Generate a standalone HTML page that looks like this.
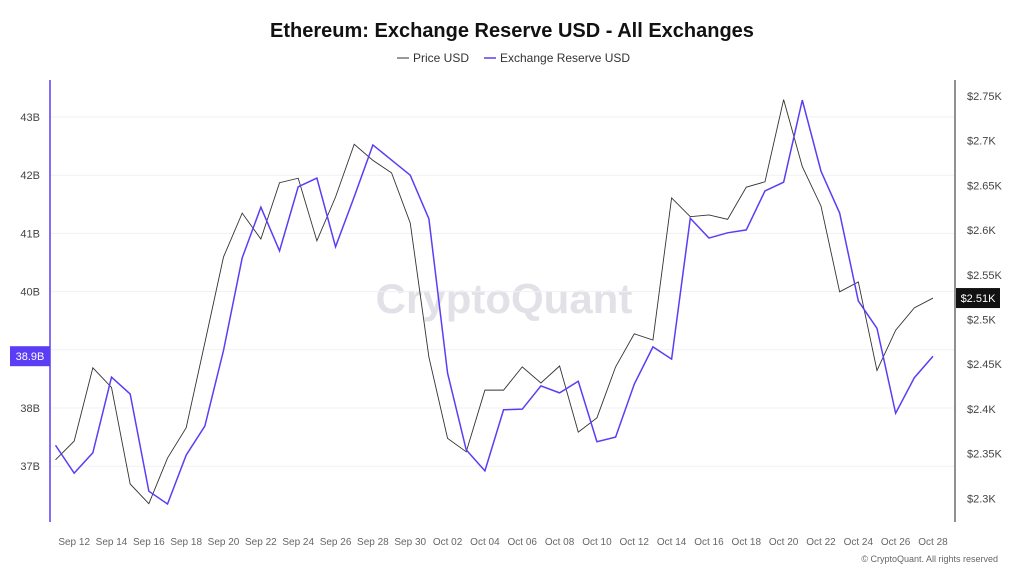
<!DOCTYPE html>
<html><head><meta charset="utf-8"><style>
body{margin:0;background:#fff;font-family:"Liberation Sans",sans-serif}
svg{display:block}
</style></head><body>
<svg id="c" width="1024" height="576" xmlns="http://www.w3.org/2000/svg">
<text x="512" y="37" text-anchor="middle" font-size="20" font-weight="bold" fill="#111">Ethereum: Exchange Reserve USD - All Exchanges</text>
<g>
<line x1="397" y1="58" x2="409" y2="58" stroke="#333" stroke-width="1"/>
<text x="413" y="62" font-size="12" fill="#333">Price USD</text>
<line x1="484" y1="58" x2="496" y2="58" stroke="#5b3df5" stroke-width="1.5"/>
<text x="500" y="62" font-size="12" fill="#333">Exchange Reserve USD</text>
</g>
<text x="504" y="313" text-anchor="middle" font-size="42" font-weight="bold" fill="#e2e1e8">CryptoQuant</text>
<g id="grid"></g><g id="axes"></g><g id="lines"></g>
<text x="998" y="562" text-anchor="end" font-size="9" fill="#666">© CryptoQuant. All rights reserved</text>
</svg>
<script>
const dates=["Sep 11","Sep 12","Sep 13","Sep 14","Sep 15","Sep 16","Sep 17","Sep 18","Sep 19","Sep 20","Sep 21","Sep 22","Sep 23","Sep 24","Sep 25","Sep 26","Sep 27","Sep 28","Sep 29","Sep 30","Oct 01","Oct 02","Oct 03","Oct 04","Oct 05","Oct 06","Oct 07","Oct 08","Oct 09","Oct 10","Oct 11","Oct 12","Oct 13","Oct 14","Oct 15","Oct 16","Oct 17","Oct 18","Oct 19","Oct 20","Oct 21","Oct 22","Oct 23","Oct 24","Oct 25","Oct 26","Oct 27","Oct 28"];
const reserve=[37.36,36.88,37.23,38.53,38.24,36.57,36.35,37.19,37.69,38.99,40.58,41.45,40.70,41.80,41.95,40.77,41.63,42.52,42.26,42.00,41.25,38.60,37.28,36.92,37.97,37.98,38.38,38.26,38.46,37.42,37.50,38.41,39.05,38.84,41.26,40.92,41.01,41.06,41.73,41.88,43.29,42.07,41.35,39.84,39.37,37.91,38.52,38.89];
const price=[2.343,2.364,2.446,2.424,2.316,2.294,2.345,2.379,2.474,2.570,2.619,2.590,2.653,2.658,2.588,2.637,2.696,2.678,2.664,2.608,2.458,2.367,2.352,2.421,2.421,2.447,2.429,2.448,2.374,2.390,2.447,2.484,2.477,2.636,2.615,2.617,2.612,2.648,2.654,2.746,2.671,2.627,2.531,2.542,2.443,2.488,2.513,2.524];
const leftTicks=[37,38,39,40,41,42,43];
const rightTicks=[2.3,2.35,2.4,2.45,2.5,2.55,2.6,2.65,2.7,2.75];
const NS="http://www.w3.org/2000/svg";
const X0=55.5,DX=18.67;
const x=i=>X0+i*DX;
const yL=v=>117+(43-v)*58.2;
const yR=v=>96+(2.75-v)*894;
function mk(t,a,p,txt){const e=document.createElementNS(NS,t);for(const k in a)e.setAttribute(k,a[k]);if(txt!=null)e.textContent=txt;p.appendChild(e);return e;}
const grid=document.getElementById('grid'),axes=document.getElementById('axes'),lines=document.getElementById('lines');
leftTicks.forEach(v=>{
 const g=mk('line',{x1:51,x2:954,y1:yL(v),y2:yL(v),stroke:'#f1f1f4'},grid);
 
 
 if(v===39)return;
 const t=mk('text',{x:40,y:yL(v)+4,'text-anchor':'end','font-size':11,fill:'#444'},axes,v+'B');
 
 
});
rightTicks.forEach(v=>{
 const t=mk('text',{x:967,y:yR(v)+4,'font-size':11,fill:'#444'},axes,'$'+v+'K');
 
 
});
dates.forEach((d,i)=>{
 if(i%2===1){const t=mk('text',{x:x(i),y:545,'text-anchor':'middle','font-size':10,fill:'#666'},axes,d);
 
 }
});
const la=mk('line',{x1:50,x2:50,y1:80,y2:522,stroke:'#5b3df5','stroke-width':1.5},axes);


const ra=mk('line',{x1:955,x2:955,y1:80,y2:522,stroke:'#222','stroke-width':1},axes);


const pp=mk('polyline',{points:price.map((v,i)=>x(i)+','+yR(v)).join(' '),fill:'none',stroke:'#333','stroke-width':0.9},lines);


const rp=mk('polyline',{points:reserve.map((v,i)=>x(i)+','+yL(v)).join(' '),fill:'none',stroke:'#5b3df5','stroke-width':1.5},lines);


const lr=reserve[reserve.length-1],lp=price[price.length-1];
const lb=mk('rect',{x:10,y:yL(lr)-10,width:40,height:20,fill:'#5b3df5'},lines);


const lt=mk('text',{x:30,y:yL(lr)+4,'text-anchor':'middle','font-size':11,fill:'#fff'},lines,lr.toFixed(1)+'B');


const pb=mk('rect',{x:956,y:yR(lp)-10,width:44,height:20,fill:'#111'},lines);


const pt=mk('text',{x:978,y:yR(lp)+4,'text-anchor':'middle','font-size':11,fill:'#fff'},lines,'$2.51K');


</script>
</body></html>
